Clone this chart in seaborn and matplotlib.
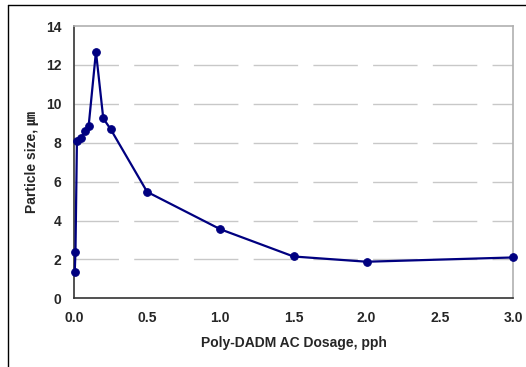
"""
Particle size vs Poly-DADMAC dosage
"""

import matplotlib
matplotlib.use("Agg")
import matplotlib.pyplot as plt
import seaborn as sns
import pandas as pd
from matplotlib.lines import Line2D

dosage = [0.005, 0.01, 0.02, 0.05, 0.075, 0.1, 0.15, 0.2, 0.25, 0.5, 1.0, 1.5, 2.0, 3.0]
particle_size = [1.35, 2.4, 8.1, 8.25, 8.6, 8.85, 12.68, 9.25, 8.7, 5.47, 3.55, 2.15, 1.88, 2.1]
x_ticks = [0.0, 0.5, 1.0, 1.5, 2.0, 2.5, 3.0]
y_ticks = [0, 2, 4, 6, 8, 10, 12, 14]

df = pd.DataFrame({"dosage": dosage, "size": particle_size})

sns.set_style("white")
plt.rcParams["font.family"] = ["Liberation Sans", "Noto Sans CJK JP", "DejaVu Sans"]
plt.rcParams["font.weight"] = "bold"

fig = plt.figure(figsize=(5.26, 3.67), dpi=100)
ax = fig.add_axes([74 / 526, 1 - 298.3 / 367, (513 - 74) / 526, (298.3 - 26) / 367])

sns.lineplot(data=df, x="dosage", y="size", ax=ax, color="#000080", linewidth=1.6,
             marker="o", markersize=5.5, markeredgecolor="#000080", estimator=None,
             sort=False, clip_on=False, zorder=5)

ax.set_xlim(0, 3.0)
ax.set_ylim(0, 14)
ax.set_xticks(x_ticks)
ax.set_xticklabels([f"{v:.1f}" for v in x_ticks])
ax.set_yticks(y_ticks)

# dashed grey gridlines
for yv in y_ticks[1:-1]:
    ax.axhline(yv, color="#c8c8c8", linewidth=1.0, dashes=(32, 11), zorder=1)

for side in ["top", "right"]:
    ax.spines[side].set_color("#b0b0b0")
    ax.spines[side].set_linewidth(1.2)
for side in ["left", "bottom"]:
    ax.spines[side].set_color("#333333")
    ax.spines[side].set_linewidth(1.2)

ax.tick_params(axis="both", direction="in", length=3.5, width=1, color="#333333",
               labelsize=10, pad=9)
for lab in ax.get_xticklabels() + ax.get_yticklabels():
    lab.set_fontweight("bold")

ax.set_xlabel("Poly-DADM AC Dosage, pph", fontsize=10, fontweight="bold")
ax.set_ylabel("Particle size, ㎛", fontsize=10, fontweight="bold")
ax.xaxis.set_label_coords(0.5, -0.138)
ax.yaxis.set_label_coords(-0.079, 0.5)

# chart area border (left and top edges visible)
fig.add_artist(Line2D([7.5 / 526, 7.5 / 526], [0, 1 - 4.5 / 367], color="black", linewidth=1.0))
fig.add_artist(Line2D([7.5 / 526, 1], [1 - 4.5 / 367, 1 - 4.5 / 367], color="black", linewidth=1.0))

fig.savefig("out.png", dpi=100)
plt.close(fig)
print("Saved out.png")
